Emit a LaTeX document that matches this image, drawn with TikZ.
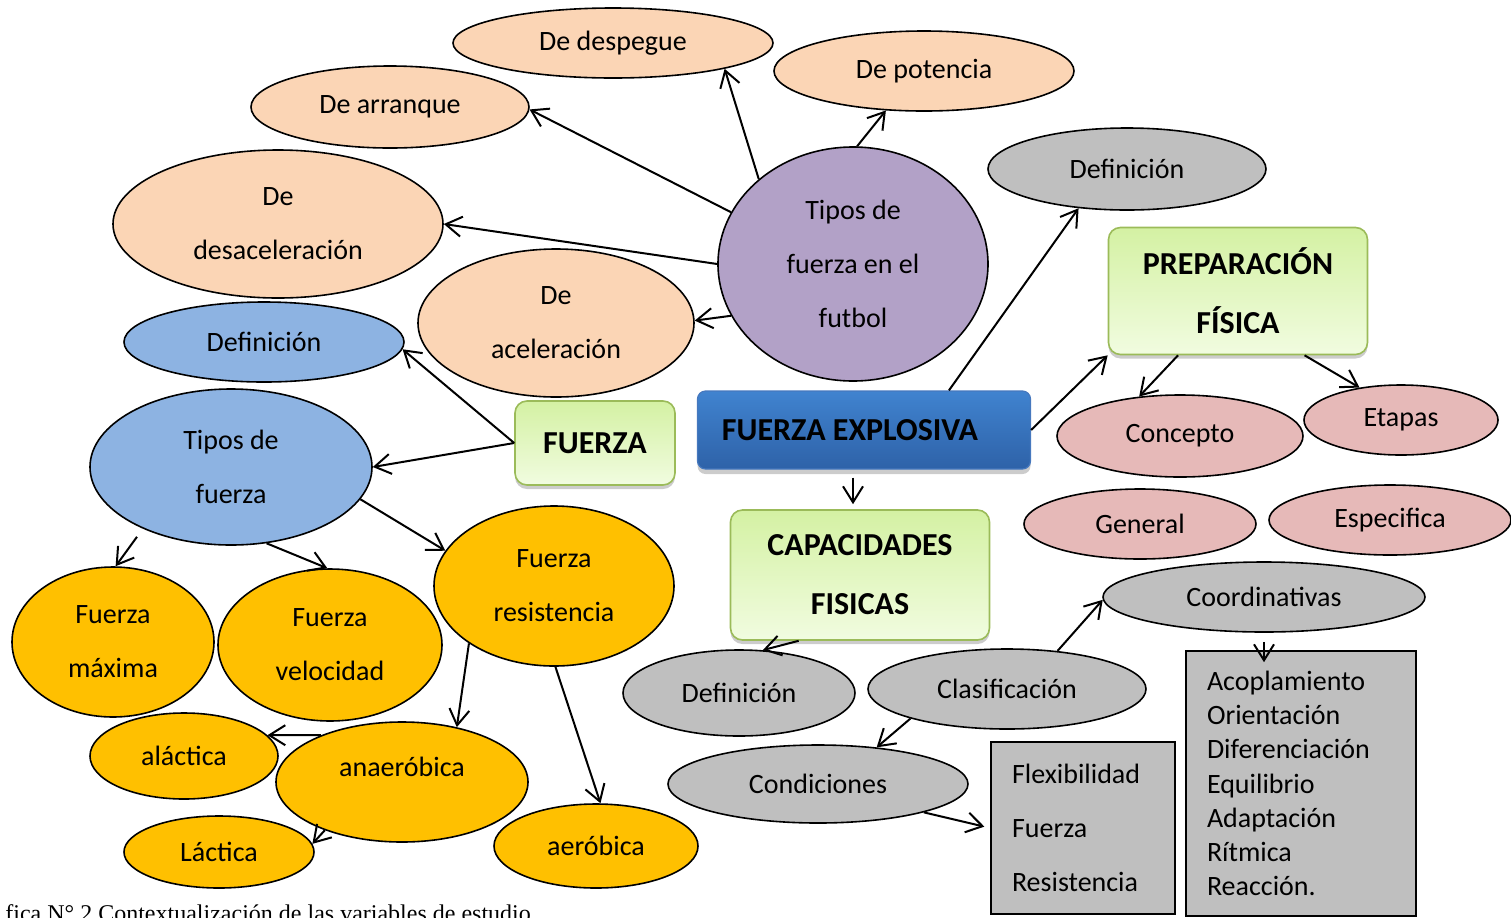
\documentclass[tikz,border=0pt]{standalone}
\usepackage{fontspec}
\setmainfont{Carlito}
\newfontfamily\captionserif{Liberation Serif}
\usetikzlibrary{shapes.geometric,arrows.meta,shadows}
\definecolor{peach}{RGB}{251,213,181}
\definecolor{lila}{RGB}{178,161,199}
\definecolor{gris}{RGB}{191,191,191}
\definecolor{azul}{RGB}{141,179,226}
\definecolor{rosa}{RGB}{230,185,184}
\definecolor{naranja}{RGB}{255,192,0}
\definecolor{verdeborde}{RGB}{155,187,89}
\definecolor{verdearriba}{RGB}{212,241,163}
\definecolor{verdeabajo}{RGB}{241,252,224}

\begin{document}
\begin{tikzpicture}[x=0.5pt,y=-0.5pt]

\tikzset{oval/.style = {shape=ellipse,draw,line width=0.8pt,inner sep=0pt,align=center,font=\fontsize{14}{27}\selectfont}}
\tikzset{greenbox/.style = {shape=rectangle,rounded corners=6pt,draw=verdeborde,line width=0.8pt,top color=verdearriba,bottom color=verdeabajo,drop shadow={shadow xshift=0pt,shadow yshift=-2pt,fill=black!40},align=center,font=\fontsize{16}{29.5}\selectfont\bfseries}}
\tikzset{listbox/.style = {shape=rectangle,draw,line width=0.8pt,fill=gris,align=left,inner xsep=10.5pt}}
\tikzset{edge/.style = {-{Straight Barb[length=8pt,width=10pt]},line width=1pt}}

\clip (0,0) rectangle (1511,917);

% vertices
\node[oval,fill=peach,minimum width=160pt,minimum height=35pt] (despegue) at (613,43) {De despegue};
\node[oval,fill=peach,minimum width=150pt,minimum height=40pt] (potencia) at (924,71) {De potencia};
\node[oval,fill=peach,minimum width=139pt,minimum height=41pt] (arranque) at (390,107) {De arranque};
\node[oval,fill=peach,minimum width=165pt,minimum height=74pt] (desacel) at (278,224) {De\\desaceleración};
\node[oval,fill=peach,minimum width=138pt,minimum height=74pt] (acel) at (556,323) {De\\aceleración};
\node[oval,fill=lila,minimum width=135pt,minimum height=117pt] (tipos) at (853,264) {Tipos de\\fuerza en el\\futbol};
\node[oval,fill=gris,minimum width=139pt,minimum height=41pt] (def1) at (1127,169) {Definición};

\node[greenbox,minimum width=129.5pt,minimum height=63.5pt] (prep) at (1238,291) {PREPARACIÓN\\FÍSICA};
\node[greenbox,minimum width=80pt,minimum height=42pt] (fuerza) at (595,443) {FUERZA};
\node[shape=rectangle,rounded corners=4pt,draw={rgb,255:red,70;green,120;blue,190},line width=0.6pt,
  top color={rgb,255:red,64;green,131;blue,207},bottom color={rgb,255:red,46;green,98;blue,168},
  drop shadow={shadow xshift=0pt,shadow yshift=-2.5pt,fill=black!40},
  minimum width=166.5pt,minimum height=39pt,font=\fontsize{16}{19}\selectfont\bfseries] (fe) at (864,430) {FUERZA EXPLOSIVA\hspace*{14pt}};
\node[greenbox,minimum width=129.5pt,minimum height=65pt] (cap) at (860,575) {CAPACIDADES\\FISICAS};

\node[oval,fill=azul,minimum width=140pt,minimum height=40pt] (defb) at (264,342) {Definición};
\node[oval,fill=azul,minimum width=141pt,minimum height=78pt] (tfz) at (231,467) {Tipos de\\fuerza};

\node[oval,fill=rosa,minimum width=123pt,minimum height=41pt] (concepto) at (1180,436) {Concepto};
\node[oval,fill=rosa,minimum width=97pt,minimum height=35pt] (etapas) at (1401,420) {Etapas};
\node[oval,fill=rosa,minimum width=116pt,minimum height=35pt] (general) at (1140,524) {General};
\node[oval,fill=rosa,minimum width=121pt,minimum height=35pt] (especifica) at (1390,520) {Especifica};

\node[oval,fill=naranja,minimum width=101pt,minimum height=75pt] (fmax) at (113,642) {Fuerza\\máxima};
\node[oval,fill=naranja,minimum width=112pt,minimum height=76pt] (fvel) at (330,645) {Fuerza\\velocidad};
\node[oval,fill=naranja,minimum width=120pt,minimum height=80pt] (fres) at (554,586) {Fuerza\\resistencia};
\node[oval,fill=naranja,minimum width=94pt,minimum height=43pt] (alact) at (184,756) {aláctica};
\node[oval,fill=naranja,minimum width=126pt,minimum height=60pt] (anaer) at (402,782) {\raisebox{7.5pt}[\height][\depth]{anaeróbica}};
\node[oval,fill=naranja,minimum width=95pt,minimum height=36pt] (lact) at (219,852) {Láctica};
\node[oval,fill=naranja,minimum width=102pt,minimum height=42pt] (aerob) at (596,846) {aeróbica};

\node[oval,fill=gris,minimum width=116pt,minimum height=43pt] (def2) at (739,693) {Definición};
\node[oval,fill=gris,minimum width=139pt,minimum height=40pt] (clas) at (1007,689) {Clasificación};
\node[oval,fill=gris,minimum width=161pt,minimum height=35pt] (coord) at (1264,597) {Coordinativas};
\node[oval,fill=gris,minimum width=150pt,minimum height=39pt] (cond) at (818,784) {Condiciones};

\node[listbox,text width=71pt,minimum height=86pt,font=\fontsize{14}{27}\selectfont] (flex) at (1083,828) {Flexibilidad\\Fuerza\\Resistencia};
\node[listbox,text width=94pt,minimum height=132.5pt,font=\fontsize{14}{17.1}\selectfont] (acop) at (1301,783.5) {Acoplamiento\\Orientación\\Diferenciación\\Equilibrio\\Adaptación\\Rítmica\\Reacción.};

\node[anchor=base west,inner sep=0pt,font=\captionserif\fontsize{12}{14}\selectfont] (pie) at (5,921) {fica N° 2 Contextualización de las variables de estudio};

%edges
\draw[edge] (tipos.138) to (despegue.-13);
\draw[edge] (tipos.88) to (potencia.-134);
\draw[edge] (tipos.157) to (arranque.-1);
\draw[edge] (tipos.180) to (desacel.0);
\draw[edge] (tipos.203) to (acel.1);

\draw[edge] (fe.25) to (def1.-141);
\draw[edge] (fe.east) to (prep.south west);
\draw[edge,shorten <=4pt,shorten >=2.5pt] ([xshift=-5.5pt]fe.south) to ([xshift=-3.5pt]cap.north);
\draw[edge] (prep.-133) to (concepto.136);
\draw[edge] (prep.-44) to (etapas.142);

\draw[edge] (fuerza.west) to (defb.-3);
\draw[edge] (fuerza.west) to (tfz.0);
\draw[edge,shorten <=5pt] (tfz.215) to (fmax.88);
\draw[edge] (tfz.-65) to (fvel.92);
\draw[edge] (tfz.-14) to (fres.162);
\draw[edge] (fres.214) to (anaer.45);
\draw[edge] (fres.-89) to (aerob.84);
\draw[edge] (anaer.150) to (alact.14);
\draw[edge] (anaer.212) to (lact.5);

\draw[edge] (cap.-133) to (def2.61);
\draw[edge] (clas.37) to (coord.181);
\draw[edge] (clas.197) to (cond.32);
\draw[edge,shorten <=4.5pt,shorten >=-6pt] (coord.south) to (coord.south |- acop.north);
\draw[edge,shorten >=3pt] (cond.-15) to (flex.west);

\end{tikzpicture}
\end{document}
